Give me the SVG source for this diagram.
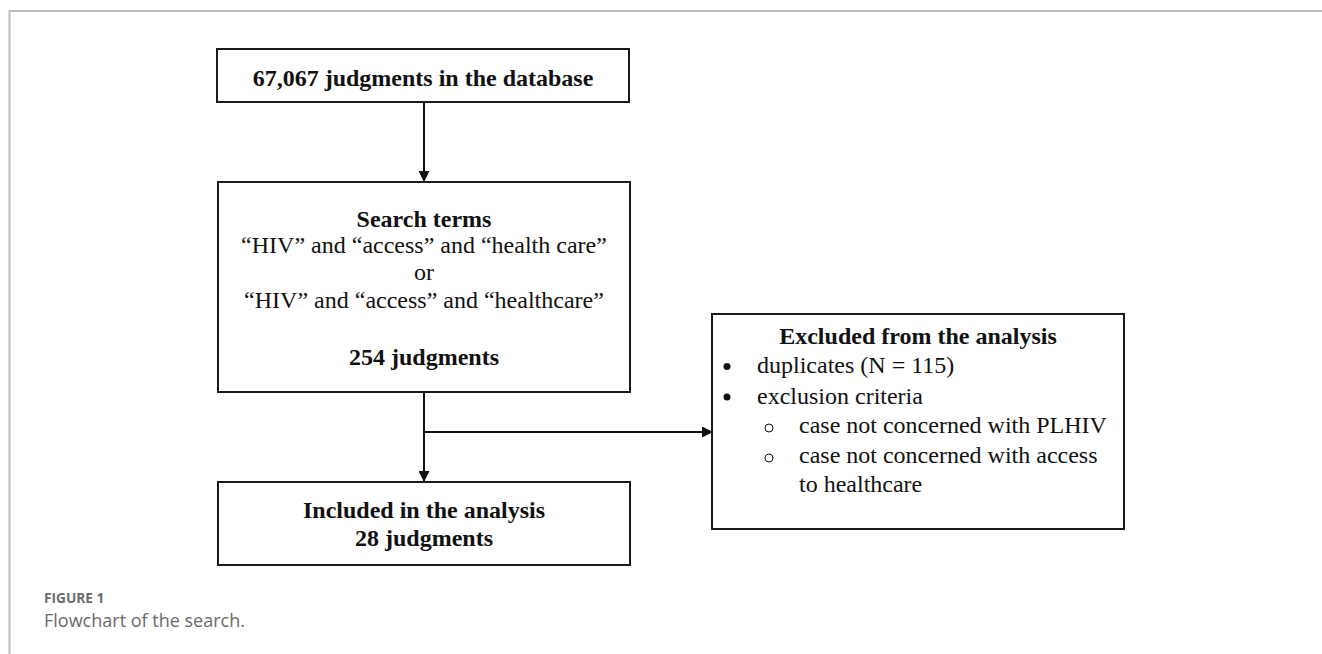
<svg xmlns="http://www.w3.org/2000/svg" width="1322" height="654" viewBox="0 0 1322 654">
<style>
.box{fill:#fff;stroke:#1a1a1a;stroke-width:2}
.t{font-family:"Liberation Serif","Times New Roman",serif;font-size:24px;fill:#111}
.b{font-weight:bold}
.c{text-anchor:middle}
.conn{stroke:#111;stroke-width:2;fill:none}
.frame{stroke:#bdbdbd;stroke-width:2;fill:none}
.cap{font-family:"Open Sans","Liberation Sans",sans-serif;fill:#6b6b6b}
</style>
<defs>
<marker id="ah" markerWidth="11" markerHeight="11" refX="10" refY="5.5" orient="auto" markerUnits="userSpaceOnUse">
<path d="M0,0 L11,5.5 L0,11 Z" fill="#111"/>
</marker>
</defs>
<path class="frame" d="M9.5,654 V11 H1322"/>
<g id="connectors">
<line class="conn" x1="424" y1="102" x2="424" y2="181" marker-end="url(#ah)"/>
<line class="conn" x1="424" y1="392" x2="424" y2="481" marker-end="url(#ah)"/>
<line class="conn" x1="424" y1="432" x2="712" y2="432" marker-end="url(#ah)"/>
</g>
<g id="node-database">
<rect class="box" x="217" y="49" width="412" height="53"/>
<text class="t b c" x="423" y="86">67,067 judgments in the database</text>
</g>
<g id="node-search">
<rect class="box" x="218" y="182" width="412" height="210"/>
<text class="t b c" x="424" y="227">Search terms</text>
<text class="t c" x="424" y="253">“HIV” and “access” and “health care”</text>
<text class="t c" x="424" y="280">or</text>
<text class="t c" x="424" y="308">“HIV” and “access” and “healthcare”</text>
<text class="t b c" x="424" y="365">254 judgments</text>
</g>
<g id="node-included">
<rect class="box" x="218" y="482" width="412" height="83"/>
<text class="t b c" x="424" y="518">Included in the analysis</text>
<text class="t b c" x="424" y="546">28 judgments</text>
</g>
<g id="node-excluded">
<rect class="box" x="712" y="314" width="412" height="215"/>
<text class="t b c" x="918" y="344">Excluded from the analysis</text>
<circle cx="727" cy="366.5" r="3.5" fill="#111"/>
<text class="t" x="757" y="373">duplicates (N = 115)</text>
<circle cx="727" cy="397" r="3.5" fill="#111"/>
<text class="t" x="757" y="404">exclusion criteria</text>
<circle cx="769" cy="428" r="4" fill="none" stroke="#111" stroke-width="1"/>
<text class="t" x="799" y="433">case not concerned with PLHIV</text>
<circle cx="769" cy="458" r="4" fill="none" stroke="#111" stroke-width="1"/>
<text class="t" x="799" y="463">case not concerned with access</text>
<text class="t" x="799" y="492">to healthcare</text>
</g>
<text class="cap" x="44" y="603" font-size="13.7" font-weight="bold">FIGURE 1</text>
<text class="cap" x="44" y="627" font-size="18">Flowchart of the search.</text>
</svg>
